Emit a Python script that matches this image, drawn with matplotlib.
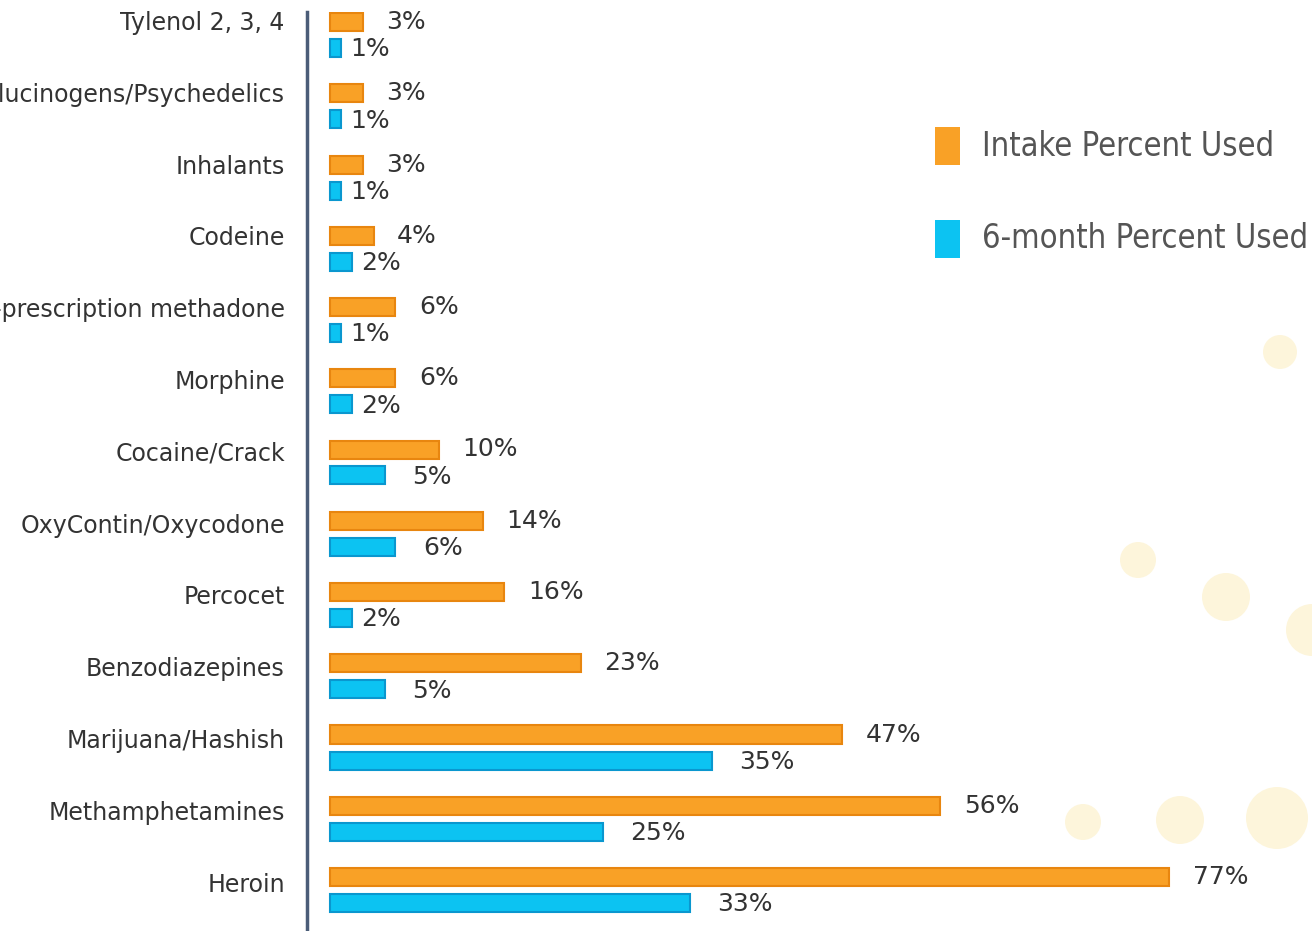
import matplotlib
matplotlib.use("Agg")
import matplotlib.pyplot as plt
from matplotlib.patches import Rectangle, Ellipse
import numpy as np

categories = [
    "Tylenol 2, 3, 4", "Hallucinogens/Psychedelics", "Inhalants", "Codeine",
    "Non-prescription methadone", "Morphine", "Cocaine/Crack",
    "OxyContin/Oxycodone", "Percocet", "Benzodiazepines",
    "Marijuana/Hashish", "Methamphetamines", "Heroin",
]
intake_pct = [3, 3, 3, 4, 6, 6, 10, 14, 16, 23, 47, 56, 77]
six_month_pct = [1, 1, 1, 2, 1, 2, 5, 6, 2, 5, 35, 25, 33]
series_names = ["Intake Percent Used", "6-month Percent Used"]

ORANGE, ORANGE_EDGE = "#f9a126", "#e8860f"
BLUE, BLUE_EDGE = "#0cc3f2", "#0a97cf"
TEXT = "#333333"

W, H = 1312, 931
fig = plt.figure(figsize=(W / 100, H / 100), dpi=100)
fig.patch.set_facecolor("white")

# soft decorative dots in the background
dots = [(1280, 352, 17), (1138, 560, 18), (1226, 597, 24), (1312, 630, 26),
        (1083, 822, 18), (1180, 820, 24), (1277, 818, 31)]
for cx, cy, r in dots:
    fig.patches.append(Ellipse((cx / W, 1 - cy / H), 2 * r / W, 2 * r / H,
                               transform=fig.transFigure, facecolor="#fdf3d2",
                               edgecolor="none", alpha=0.8, zorder=0))

ax_left, ax_top, ax_bottom = 307, 12, 931
ax = fig.add_axes([ax_left / W, 0, 1 - ax_left / W, 1 - ax_top / H])
ax.set_facecolor("none")

px_per_unit = 10.9
ax.set_xlim(-23 / px_per_unit, -23 / px_per_unit + (W - ax_left) / px_per_unit)
row_px = 71.25
first_center = 35
ax.set_ylim((ax_bottom - first_center) / row_px, (ax_top - first_center) / row_px)

y = np.arange(len(categories))
off = 13 / row_px
bh = 18 / row_px
ax.barh(y - off, intake_pct, height=bh, color=ORANGE, edgecolor=ORANGE_EDGE,
        linewidth=1.5, zorder=3)
ax.barh(y + off, six_month_pct, height=bh, color=BLUE, edgecolor=BLUE_EDGE,
        linewidth=1.5, zorder=3)

for yi, v in zip(y, intake_pct):
    ax.annotate(f"{v}%", (v, yi - off), xytext=(17, 0), textcoords="offset points",
                va="center", ha="left", fontsize=18, color=TEXT)
for yi, v in zip(y, six_month_pct):
    gap = 7 if v <= 2 else 20
    ax.annotate(f"{v}%", (v, yi + off + 0.02), xytext=(gap, 0),
                textcoords="offset points", va="center", ha="left",
                fontsize=18, color=TEXT)

# category names sit a little lower on the lower rows
for yi, name in zip(y, categories):
    ax.annotate(name, (0, yi - 0.17 + 0.008 * yi), xycoords=("axes fraction", "data"),
                xytext=(-16, 0), textcoords="offset points",
                ha="right", va="center", fontsize=17, color=TEXT,
                annotation_clip=False)

for s in ["top", "right", "bottom"]:
    ax.spines[s].set_visible(False)
ax.spines["left"].set_color("#4b5d78")
ax.spines["left"].set_linewidth(2.5)
ax.set_xticks([])
ax.set_yticks([])

# legend
for (cy, color), name in zip([(146, ORANGE), (239, BLUE)], series_names):
    fig.patches.append(Rectangle((935 / W, 1 - (cy + 19) / H), 25 / W, 38 / H,
                                 transform=fig.transFigure, facecolor=color,
                                 edgecolor="none"))
    fig.text(982 / W, 1 - cy / H, name, ha="left", va="center",
             fontsize=23.5, color="#555555", family="DejaVu Sans",
             fontstretch="condensed")

fig.savefig("out.png", dpi=100)
